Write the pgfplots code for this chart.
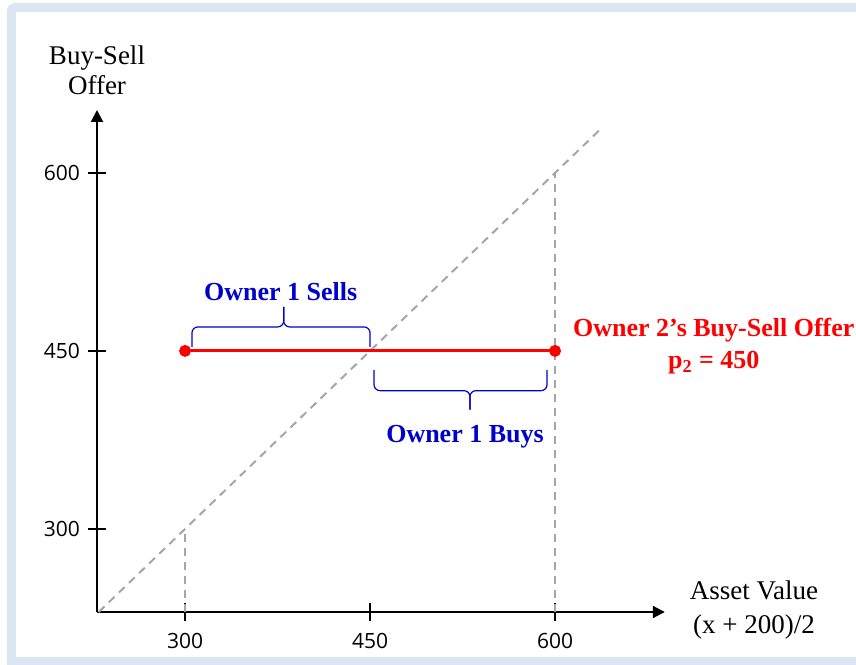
\documentclass[border=0pt]{standalone}
\usepackage{pgfplots}
\pgfplotsset{compat=1.18}
\usepackage{fontspec}
\setmainfont{Liberation Serif}
\newfontfamily\tickfont{Open Sans}
\usetikzlibrary{arrows.meta}
\definecolor{frameblue}{RGB}{220,230,242}
\definecolor{dashgray}{RGB}{166,166,166}
\definecolor{annblue}{RGB}{0,0,204}
\begin{document}
\begin{tikzpicture}
\useasboundingbox (-48.5pt,-26pt) rectangle (379.5pt,306pt);
\clip (-48.5pt,-26pt) rectangle (379.5pt,306pt);
\fill[frameblue, rounded corners=4pt] (-45pt,-30pt) rectangle (390pt,304.5pt);
\fill[white] (-40.5pt,-22.5pt) rectangle (390pt,300pt);
\begin{axis}[
 at={(0,0)}, anchor=south west, scale only axis,
 width=283.9pt, height=251pt,
 xmin=228.6, xmax=689, ymin=230, ymax=653,
 axis lines=left,
 axis line style={line width=1pt, -{Triangle[length=6pt,width=6pt]}},
 xtick={300,450,600}, ytick={300,450,600},
 tick align=center, major tick length=9pt,
 tick style={line width=1pt, black},
 tick label style={font=\tickfont\fontsize{10.5}{12}\selectfont},
 /pgf/number format/assume math mode=true,
 xticklabel style={yshift=-2.5pt},
 yticklabel style={xshift=-0.5pt},
 clip=false,
]
\addplot[dashgray, line width=1pt, dash pattern=on 4pt off 3pt] coordinates {(230,230) (637,637)};
\addplot[dashgray, line width=1pt, dash pattern=on 4pt off 3pt] coordinates {(300,230) (300,300)};
\addplot[dashgray, line width=1pt, dash pattern=on 4pt off 3pt] coordinates {(600,230) (600,600)};
\addplot[red, line width=1.5pt, mark=*, mark size=2.2pt] coordinates {(300,450) (600,450)};

\draw[annblue, line width=0.6pt, rounded corners=3pt] (axis cs:305.6,453.3) -- (axis cs:305.6,470.2) -- (axis cs:380,470.2) -- (axis cs:380,487);
\draw[annblue, line width=0.6pt, rounded corners=3pt] (axis cs:380,487) -- (axis cs:380,470.2) -- (axis cs:450,470.2) -- (axis cs:450,453.3);
\draw[annblue, line width=0.6pt, rounded corners=3pt] (axis cs:453.2,433.9) -- (axis cs:453.2,416.5) -- (axis cs:531,416.5) -- (axis cs:531,400.6);
\draw[annblue, line width=0.6pt, rounded corners=3pt] (axis cs:531,400.6) -- (axis cs:531,416.5) -- (axis cs:593.5,416.5) -- (axis cs:593.5,433.9);

\node[annblue, font=\bfseries\fontsize{13}{15}\selectfont] at (axis cs:377.5,499.7) {Owner 1 Sells};
\node[annblue, font=\bfseries\fontsize{13}{15}\selectfont] at (axis cs:527,378) {Owner 1 Buys};
\node[red, align=center, font=\bfseries\fontsize{13}{16}\selectfont] at (axis cs:728.7,454) {Owner 2’s Buy-Sell Offer\\p\textsubscript{2} = 450};
\node[align=center, font=\fontsize{13.5}{15}\selectfont] at (axis cs:228.6,686.7) {Buy-Sell\\Offer};
\node[align=center, font=\fontsize{13.5}{17}\selectfont] at (axis cs:761.3,231.7) {Asset Value\\(x + 200)/2};
\end{axis}
\end{tikzpicture}
\end{document}
